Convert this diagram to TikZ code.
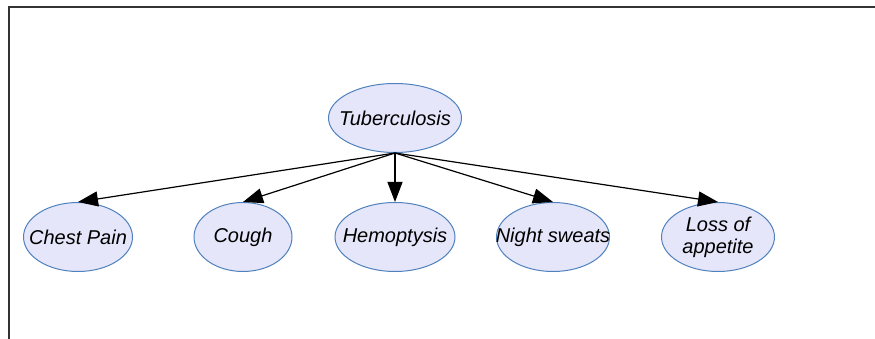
\documentclass[tikz,border=0pt]{standalone}
\usepackage{fontspec}
\setmainfont{Liberation Sans}
\usetikzlibrary{shapes.geometric,arrows.meta}
\definecolor{nodefill}{RGB}{230,230,250}
\definecolor{nodeline}{RGB}{79,129,189}
\begin{document}
\begin{tikzpicture}[x=1pt, y=-1pt,
  var/.style = {draw=nodeline, fill=nodefill, ellipse, line width=1pt,
                inner sep=-25pt, minimum height=69pt, minimum width=#1,
                align=center, font=\fontsize{20}{22}\selectfont\itshape},
  arr/.style = {-{Triangle[length=20pt,width=15pt]}, line width=1.2pt}
]
  \useasboundingbox (0,0) rectangle (875,339);

  % frame
  \draw[line width=1.5pt, black!80] (875,7) -- (9,7) -- (9,339);

  % cause
  \node[var=133pt] (tb) at (395,118) {Tuberculosis};

  % symptoms
  \node[var=109pt] (chest) at (78,237) {Chest Pain};
  \node[var=98pt]  (cough) at (243,237) {Cough};
  \node[var=120pt] (hemo)  at (395,237) {Hemoptysis};
  \node[var=113pt] (night) at (553,237) {Night sweats};
  \node[var=113pt] (loss)  at (718,237) {Loss of\\appetite};

  % arrows
  \draw[arr] (tb.south) -- (chest.north);
  \draw[arr] (tb.south) -- (cough.north);
  \draw[arr] (tb.south) -- (hemo.north);
  \draw[arr] (tb.south) -- (night.north);
  \draw[arr] (tb.south) -- (loss.north);

\end{tikzpicture}
\end{document}
